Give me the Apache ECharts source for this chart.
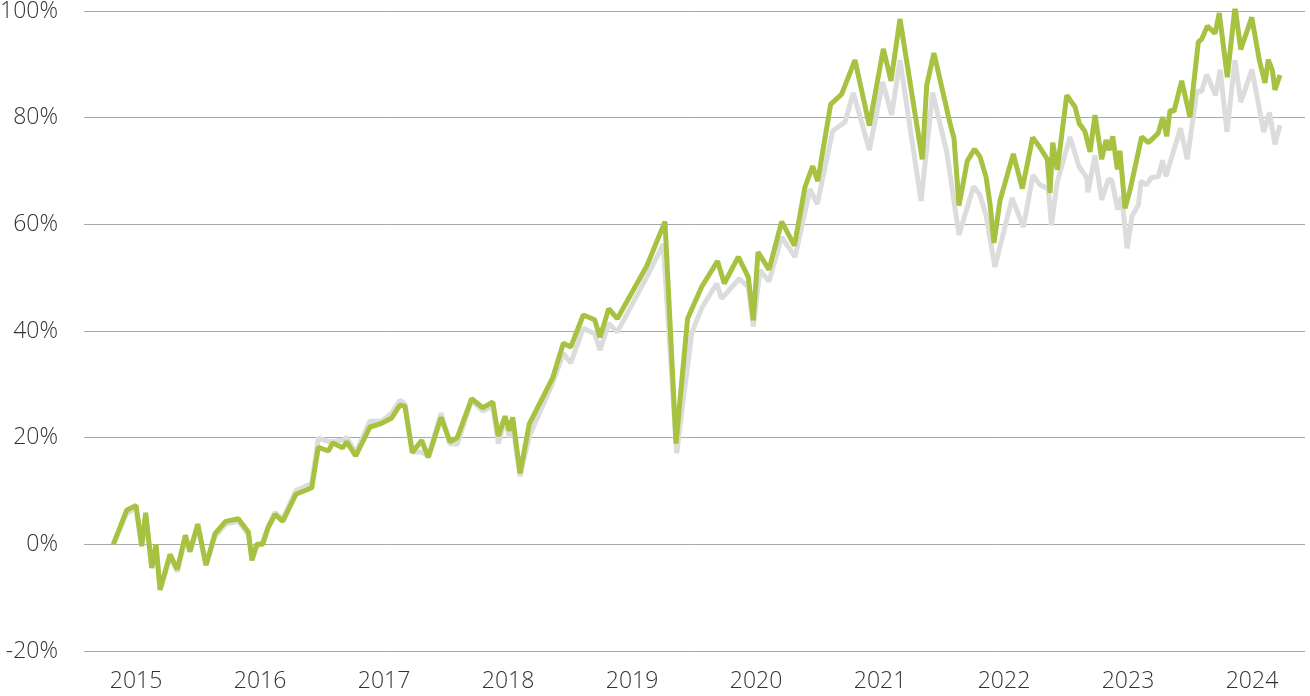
<!DOCTYPE html>
<html>
<head>
<meta charset="utf-8">
<script src="https://cdn.jsdelivr.net/npm/echarts@6/dist/echarts.min.js"></script>
<style>
html,body{margin:0;padding:0;background:#fff;}
#chart{width:1310px;height:696px;}
</style>
</head>
<body>
<div id="chart"></div>
<script>
// Dates in decimal years
var greenDates = [2014.817,2014.925,2015.000,2015.046,2015.078,2015.127,2015.161,2015.194,2015.274,2015.333,
2015.398,2015.435,2015.498,2015.565,2015.637,2015.723,2015.825,2015.906,2015.935,2015.973,
2016.022,2016.067,2016.121,2016.183,2016.290,2016.417,2016.470,2016.551,2016.586,2016.667,
2016.699,2016.772,2016.887,2016.981,2017.062,2017.129,2017.169,2017.228,2017.304,2017.357,
2017.460,2017.532,2017.591,2017.707,2017.796,2017.877,2017.922,2017.976,2018.011,2018.038,
2018.097,2018.172,2018.360,2018.446,2018.506,2018.607,2018.699,2018.742,2018.812,2018.881,
2019.119,2019.266,2019.355,2019.448,2019.562,2019.690,2019.744,2019.857,2019.938,2019.978,
2020.016,2020.105,2020.207,2020.310,2020.395,2020.457,2020.498,2020.602,2020.691,2020.798,
2020.914,2021.027,2021.089,2021.161,2021.341,2021.377,2021.435,2021.565,2021.597,2021.637,
2021.704,2021.762,2021.806,2021.855,2021.887,2021.919,2021.968,2022.075,2022.148,2022.231,
2022.290,2022.349,2022.371,2022.393,2022.430,2022.506,2022.573,2022.607,2022.653,2022.694,
2022.734,2022.788,2022.823,2022.849,2022.877,2022.914,2022.935,2022.976,2023.016,2023.110,
2023.164,2023.244,2023.280,2023.312,2023.339,2023.371,2023.433,2023.500,2023.567,2023.594,
2023.640,2023.702,2023.736,2023.801,2023.863,2023.909,2023.998,2024.059,2024.105,2024.131,
2024.164,2024.185,2024.226];
var greenValues = [0.0,6.4,7.3,-0.3,5.9,-4.4,0.0,-8.5,-1.9,-4.7,
1.7,-1.3,3.8,-3.9,2.0,4.3,4.8,2.3,-3.0,0.0,
0.0,3.2,5.6,4.3,9.4,10.6,18.2,17.5,19.0,18.1,
19.2,16.6,22.0,22.7,23.7,26.1,25.9,17.2,19.5,16.3,
23.8,19.2,20.0,27.3,25.6,26.7,20.3,24.0,21.3,23.8,
13.3,22.6,31.2,37.7,37.0,43.0,42.1,38.8,44.2,42.3,
52.2,60.5,18.9,42.3,48.3,53.1,48.9,53.9,50.1,42.0,
54.8,51.5,60.5,56.0,67.0,70.9,68.1,82.5,84.4,90.8,
78.5,92.9,86.9,98.5,72.2,86.1,92.1,78.9,76.1,63.5,
71.9,74.1,72.7,68.9,63.9,56.5,64.5,73.2,66.7,76.3,
74.4,72.2,65.9,75.3,70.2,84.2,82.0,78.9,77.4,73.6,
80.5,72.2,75.8,73.9,76.5,70.3,73.8,63.0,66.4,76.4,
75.3,77.1,80.1,76.5,81.4,81.2,86.9,80.1,94.2,94.7,
97.2,95.8,99.6,87.6,100.8,92.8,98.8,90.8,86.5,90.9,
88.9,85.2,88.0];

var grayDates = [2014.817,2014.925,2015.000,2015.046,2015.078,2015.127,2015.161,2015.194,2015.274,2015.333,
2015.398,2015.435,2015.498,2015.565,2015.637,2015.723,2015.825,2015.906,2015.935,2015.973,
2016.022,2016.067,2016.121,2016.183,2016.290,2016.417,2016.470,2016.551,2016.586,2016.667,
2016.699,2016.772,2016.887,2016.981,2017.062,2017.129,2017.169,2017.228,2017.304,2017.357,
2017.460,2017.532,2017.591,2017.707,2017.796,2017.877,2017.922,2017.976,2018.011,2018.038,
2018.097,2018.172,2018.360,2018.446,2018.506,2018.607,2018.699,2018.742,2018.812,2018.881,
2019.119,2019.252,2019.360,2019.481,2019.562,2019.683,2019.723,2019.865,2019.938,2019.978,
2020.032,2020.105,2020.207,2020.315,2020.435,2020.494,2020.618,2020.718,2020.785,2020.914,
2021.022,2021.094,2021.161,2021.331,2021.425,2021.538,2021.637,2021.754,2021.806,2021.855,
2021.927,2022.065,2022.156,2022.234,2022.290,2022.357,2022.383,2022.427,2022.532,2022.605,
2022.667,2022.677,2022.734,2022.788,2022.843,2022.869,2022.917,2022.949,2022.994,2023.032,
2023.085,2023.105,2023.148,2023.191,2023.244,2023.278,2023.306,2023.423,2023.478,2023.556,
2023.594,2023.635,2023.706,2023.744,2023.798,2023.863,2023.909,2024.000,2024.059,2024.094,
2024.141,2024.185,2024.226];
var grayValues = [0.0,5.8,6.8,-0.4,5.4,-4.5,-0.4,-8.6,-2.3,-5.1,
1.1,-1.5,3.2,-3.9,1.5,3.8,4.3,1.9,-2.6,-0.6,
0.6,3.4,6.0,4.7,10.1,11.4,19.9,19.3,19.3,19.5,
20.1,17.1,23.1,23.1,24.6,27.0,26.3,17.3,17.3,16.5,
24.6,18.8,18.8,27.0,25.0,25.9,18.9,23.5,20.1,22.3,
12.8,20.3,30.2,35.8,34.0,40.5,39.5,36.4,41.4,39.8,
50.1,56.3,17.1,39.6,44.3,48.9,46.1,49.8,48.2,40.8,
51.4,49.3,57.6,53.9,66.6,63.8,77.5,79.2,84.7,73.9,
86.7,80.5,90.8,64.4,84.7,73.6,58.0,67.1,65.5,61.7,
52.0,64.9,59.5,69.2,67.4,66.7,59.8,67.7,76.4,70.8,
68.8,66.0,72.9,64.6,68.5,68.3,62.8,65.2,55.5,61.5,
63.7,68.1,67.4,68.8,68.9,72.0,69.0,78.0,72.2,85.0,
84.9,88.1,84.2,89.0,77.3,90.8,82.9,89.0,81.7,77.3,
81.0,75.0,78.6];

var yearTicks = [2015,2016,2017,2018,2019,2020,2021,2022,2023,2024];
var yTickValues = [-20,0,20,40,60,80,100];

function pairs(xs, ys){ return xs.map(function(x,i){ return [x, ys[i]]; }); }

var chart = echarts.init(document.getElementById('chart'), null, {renderer:'canvas'});
var labelFont = {fontFamily:'Open Sans', fontWeight:300, fontSize:23, color:'#333333'};
chart.setOption({
  animation:false,
  backgroundColor:'#ffffff',
  grid:{left:84, right:5, top:11, bottom:45, containLabel:false, outerBoundsMode:'none'},
  xAxis:{
    type:'value',
    min:2014.5806, max:2024.4274,
    axisLine:{show:false}, axisTick:{show:false}, splitLine:{show:false},
    axisLabel:Object.assign({customValues:yearTicks, margin:19, formatter:function(v){return String(Math.round(v));}}, labelFont)
  },
  yAxis:{
    type:'value', min:-20, max:100, interval:20,
    axisLine:{show:false}, axisTick:{show:false},
    splitLine:{show:true, lineStyle:{color:'#a8a8a8', width:1}},
    axisLabel:Object.assign({margin:26, formatter:'{value}%'}, labelFont)
  },
  series:[
    {type:'line', data:pairs(grayDates, grayValues), symbol:'none', z:2,
     lineStyle:{color:'#dcdcdc', width:5}},
    {type:'line', data:pairs(greenDates, greenValues), symbol:'none', z:3,
     lineStyle:{color:'#a6c240', width:5}}
  ]
});
</script>
</body>
</html>
